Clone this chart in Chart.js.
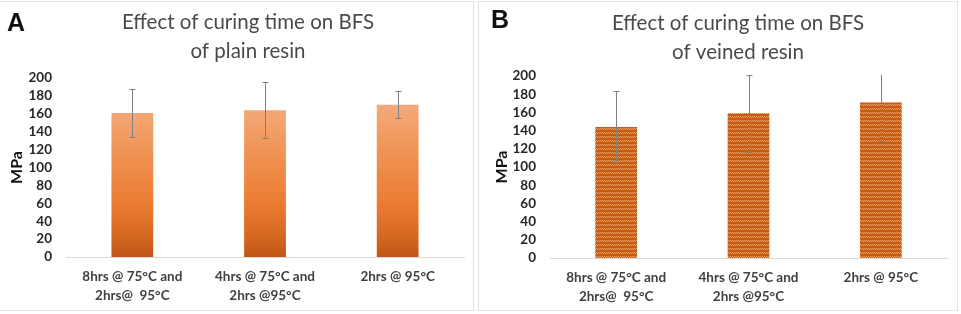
<html>

<head>
  <meta charset="utf-8">
  <title>BFS curing time</title>
  <style>
    body {
      margin: 0;
      background: #fff;
    }

    .panel {
      position: absolute;
      border: 1px solid #e2e2e2;
      box-sizing: border-box;
    }

    canvas {
      position: absolute;
      top: 0;
    }
  </style>
</head>

<body>
  <div class="panel" style="left:-1px; top:1px; width:475px; height:310px;"></div>
  <div class="panel" style="left:478px; top:1px; width:480px; height:310px;"></div>
  <canvas id="chartA" width="474" height="312" style="left:0px;"></canvas>
  <canvas id="chartB" width="483" height="312" style="left:478px;"></canvas>

  <script src="https://cdn.jsdelivr.net/npm/chart.js"></script>
  <script>
    // categories (multi-line labels)
    var categories = [
      ['8hrs @ 75°C and', '2hrs@  95°C'],
      ['4hrs @ 75°C and', '2hrs @95°C'],
      ['2hrs @ 95°C']
    ];

    // plain resin (panel A)
    var plainBFS = [161, 164, 170];
    var plainErr = [27, 31, 15];

    // veined resin (panel B)
    var veinedBFS = [144, 159, 171];
    var veinedErr = [39, 42, 42];

    var yTicks = { min: 0, max: 200, step: 20 };
    var titlesA = ['Effect of curing time on BFS', 'of plain resin'];
    var titlesB = ['Effect of curing time on BFS', 'of veined resin'];

    var labelFont = 'Lato, "Liberation Sans", sans-serif';

    // error bars + heading text
    var errorBars = {
      id: 'errorBars',
      afterDatasetsDraw(chart, args, opts) {
        var ctx = chart.ctx;
        var meta = chart.getDatasetMeta(0);
        var y = chart.scales.y;
        var area = chart.chartArea;
        ctx.save();
        ctx.beginPath();
        ctx.rect(area.left, area.top - 1, area.right - area.left, area.bottom - area.top + 2);
        ctx.clip();
        ctx.strokeStyle = '#7f7f7f';
        ctx.lineWidth = 1;
        meta.data.forEach(function (bar, i) {
          var v = chart.data.datasets[0].data[i];
          var e = opts.err[i];
          var x = Math.round(bar.x) + 0.5;
          var top = y.getPixelForValue(v + e);
          var bot = y.getPixelForValue(v - e);
          ctx.beginPath();
          ctx.moveTo(x, top);
          ctx.lineTo(x, bot);
          ctx.moveTo(x - 3, Math.round(top) + 0.5);
          ctx.lineTo(x + 3, Math.round(top) + 0.5);
          ctx.moveTo(x - 3, Math.round(bot) + 0.5);
          ctx.lineTo(x + 3, Math.round(bot) + 0.5);
          ctx.stroke();
        });
        ctx.restore();
      }
    };

    var heading = {
      id: 'heading',
      afterDraw(chart, args, opts) {
        var ctx = chart.ctx;
        ctx.save();
        ctx.fillStyle = '#111';
        ctx.font = 'bold 25px "Liberation Sans", Arial, sans-serif';
        ctx.textAlign = 'left';
        ctx.textBaseline = 'alphabetic';
        ctx.fillText(opts.letter, opts.letterX, opts.letterY);
        ctx.fillStyle = '#4a4a4a';
        ctx.font = '20.5px ' + labelFont;
        ctx.textAlign = 'center';
        opts.lines.forEach(function (t, i) {
          ctx.fillText(t, opts.titleX, opts.titleY + i * 28.5);
        });
        ctx.restore();
      }
    };

    function plainGradient(context) {
      var chart = context.chart;
      var area = chart.chartArea;
      if (!area) return '#ed7d31';
      var y = chart.scales.y;
      var g = chart.ctx.createLinearGradient(0, y.getPixelForValue(0), 0, y.getPixelForValue(168));
      g.addColorStop(0, '#c05416');
      g.addColorStop(0.12, '#d3661f');
      g.addColorStop(0.35, '#eb7b31');
      g.addColorStop(0.65, '#ef904f');
      g.addColorStop(1, '#f3a97a');
      return g;
    }

    function veinPattern() {
      var c = document.createElement('canvas');
      c.width = 4;
      c.height = 4;
      var p = c.getContext('2d');
      p.fillStyle = '#c65b14';
      p.fillRect(0, 0, 4, 4);
      p.fillStyle = '#eba067';
      p.fillRect(0, 0, 1, 1);
      p.fillRect(1, 1, 1, 1);
      p.fillRect(2, 0, 1, 1);
      p.fillRect(3, 1, 1, 1);
      return p.createPattern(c, 'repeat');
    }

    function makeChart(id, values, errs, fill, cfg) {
      return new Chart(document.getElementById(id), {
        type: 'bar',
        data: {
          labels: categories,
          datasets: [{
            data: values,
            backgroundColor: fill,
            borderWidth: 0,
            barPercentage: 0.315,
            categoryPercentage: 1
          }]
        },
        options: {
          responsive: false,
          animation: false,
          layout: { padding: { top: cfg.top, right: cfg.right, left: 0, bottom: 0 } },
          plugins: {
            legend: { display: false },
            tooltip: { enabled: false },
            errorBars: { err: errs },
            heading: cfg.heading
          },
          scales: {
            x: {
              grid: { display: false, drawTicks: false },
              border: { display: true, color: '#d9d9d9' },
              ticks: {
                color: '#404040',
                maxRotation: 0,
                autoSkip: false,
                padding: 11,
                font: { family: labelFont, weight: 'bold', size: 13.5, lineHeight: 1.35 }
              },
              afterFit: function (s) { s.height = cfg.xh; }
            },
            y: {
              min: yTicks.min,
              max: yTicks.max,
              grid: { display: false, drawTicks: false },
              border: { display: false },
              ticks: {
                stepSize: yTicks.step,
                autoSkip: false,
                color: '#262626',
                padding: 14,
                font: { family: labelFont, weight: 'bold', size: 13.5 }
              },
              title: {
                display: true,
                text: 'MPa',
                color: '#111',
                padding: { top: cfg.titlePad, bottom: 0 },
                font: { family: labelFont, weight: 'bold', size: 16 }
              },
              afterFit: function (s) { s.width = cfg.yw; }
            }
          }
        },
        plugins: [errorBars, heading]
      });
    }

    makeChart('chartA', plainBFS, plainErr, plainGradient, {
      top: 78, right: 10, xh: 55, yw: 66, titlePad: 7,
      heading: { letter: 'A', letterX: 7, letterY: 31, lines: titlesA, titleX: 248, titleY: 29 }
    });

    makeChart('chartB', veinedBFS, veinedErr, veinPattern(), {
      top: 76, right: 14, xh: 54, yw: 72, titlePad: 14,
      heading: { letter: 'B', letterX: 13, letterY: 28, lines: titlesB, titleX: 260, titleY: 30 }
    });
  </script>
</body>

</html>
